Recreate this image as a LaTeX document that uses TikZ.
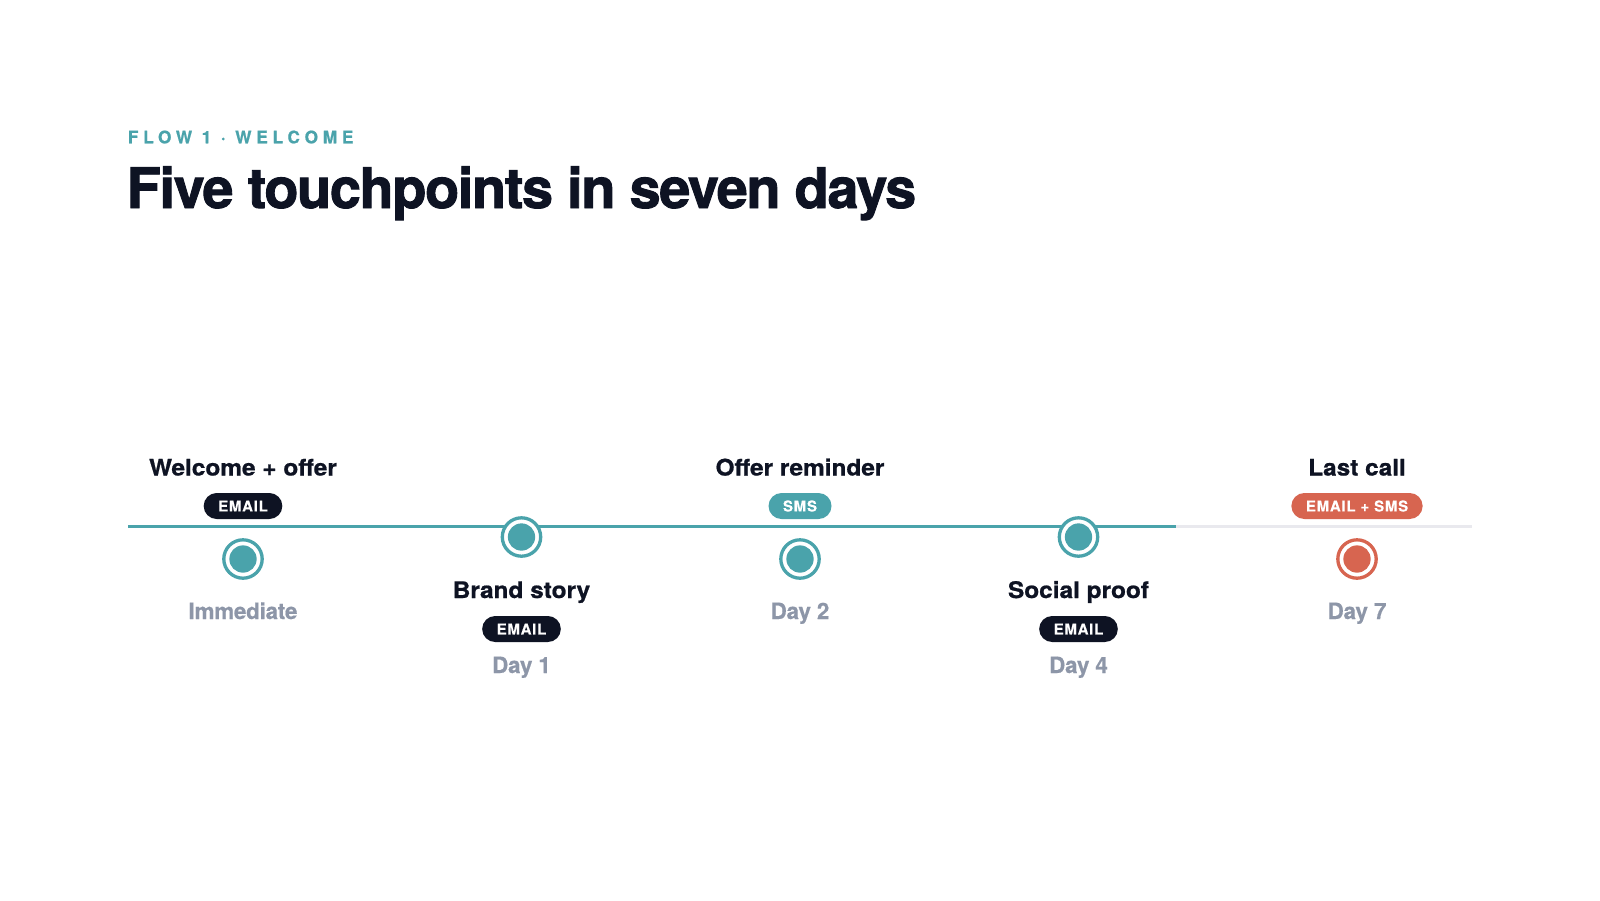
\documentclass[tikz,border=0pt]{standalone}
\usepackage{fontspec}
\setmainfont{TeX Gyre Heros}
\newfontfamily\kickerfont[LetterSpace=28,FakeBold=0.8]{TeX Gyre Heros}
\newfontfamily\titlefont[LetterSpace=-2.4,FakeBold=1.6]{TeX Gyre Heros}
\newfontfamily\labelfont[FakeStretch=1.07,FakeBold=0.8]{TeX Gyre Heros}
\newfontfamily\dayfont[LetterSpace=-1,FakeBold=0.5]{TeX Gyre Heros}
\newfontfamily\pillfont[LetterSpace=5,FakeBold=0.3]{TeX Gyre Heros}
\definecolor{teal}{HTML}{4AA3AB}
\definecolor{navy}{HTML}{0E1323}
\definecolor{slate}{HTML}{8D96A8}
\definecolor{coral}{HTML}{D76550}
\definecolor{track}{HTML}{E9E9EE}
\tikzset{
  kicker/.style={anchor=base west,inner sep=0pt,text=teal,font=\kickerfont\bfseries\fontsize{17.2}{20}\selectfont},
  headline/.style={anchor=base west,inner sep=0pt,text=navy,font=\titlefont\bfseries\fontsize{55.8}{60}\selectfont},
  steptitle/.style={anchor=base,inner sep=0pt,text=navy,font=\labelfont\bfseries\fontsize{22.8}{26}\selectfont},
  daylabel/.style={anchor=base,inner sep=0pt,text=slate,font=\dayfont\bfseries\fontsize{22.4}{26}\selectfont},
  pill/.style={rounded corners=13pt,fill=#1,text=white,minimum height=26pt,inner xsep=14.5pt,inner ysep=0pt,
    font=\pillfont\bfseries\fontsize{15}{18}\selectfont},
  ring/.style={circle,draw=#1,line width=3.3pt,fill=white,minimum size=38.4pt,inner sep=0pt},
  dot/.style={circle,fill=#1,minimum size=27.3pt,inner sep=0pt},
  trackline/.style={line width=3pt}
}
\begin{document}
\begin{tikzpicture}[x=1pt,y=-1pt]
\useasboundingbox (0,0) rectangle (1600,900);
\fill[white] (0,0) rectangle (1600,900);

\node[kicker] (kick) at (127.7,143.3) {FLOW 1 · WELCOME};
\node[headline] (head) at (126.5,208) {Five touchpoints in seven days};

% timeline
\coordinate (tlstart) at (128,526);
\coordinate (tlsplit) at (1176,526);
\coordinate (tlend) at (1472,526);
\draw[trackline,track] (tlstart) -- (tlend);
\draw[trackline,teal] (tlstart) -- (tlsplit);

% step 1
\node[steptitle] (t1) at (243,475.5) {Welcome + offer};
\node[pill=navy] (p1) at (243,506) {EMAIL};
\node[ring=teal] (r1) at (243,559) {};
\node[dot=teal] (d1) at (r1.center) {};
\node[daylabel] (y1) at (243,619) {Immediate};

% step 2
\node[ring=teal] (r2) at (521.5,537) {};
\node[dot=teal] (d2) at (r2.center) {};
\node[steptitle] (t2) at (521.5,598) {Brand story};
\node[pill=navy] (p2) at (521.5,629) {EMAIL};
\node[daylabel] (y2) at (521.5,673) {Day 1};

% step 3
\node[steptitle] (t3) at (800,475.5) {Offer reminder};
\node[pill=teal] (p3) at (800,506) {SMS};
\node[ring=teal] (r3) at (800,559) {};
\node[dot=teal] (d3) at (r3.center) {};
\node[daylabel] (y3) at (800,619) {Day 2};

% step 4
\node[ring=teal] (r4) at (1078.5,537) {};
\node[dot=teal] (d4) at (r4.center) {};
\node[steptitle] (t4) at (1078.5,598) {Social proof};
\node[pill=navy] (p4) at (1078.5,629) {EMAIL};
\node[daylabel] (y4) at (1078.5,673) {Day 4};

% step 5
\node[steptitle] (t5) at (1357,475.5) {Last call};
\node[pill=coral] (p5) at (1357,506) {EMAIL + SMS};
\node[ring=coral] (r5) at (1357,559) {};
\node[dot=coral] (d5) at (r5.center) {};
\node[daylabel] (y5) at (1357,619) {Day 7};
\end{tikzpicture}
\end{document}
